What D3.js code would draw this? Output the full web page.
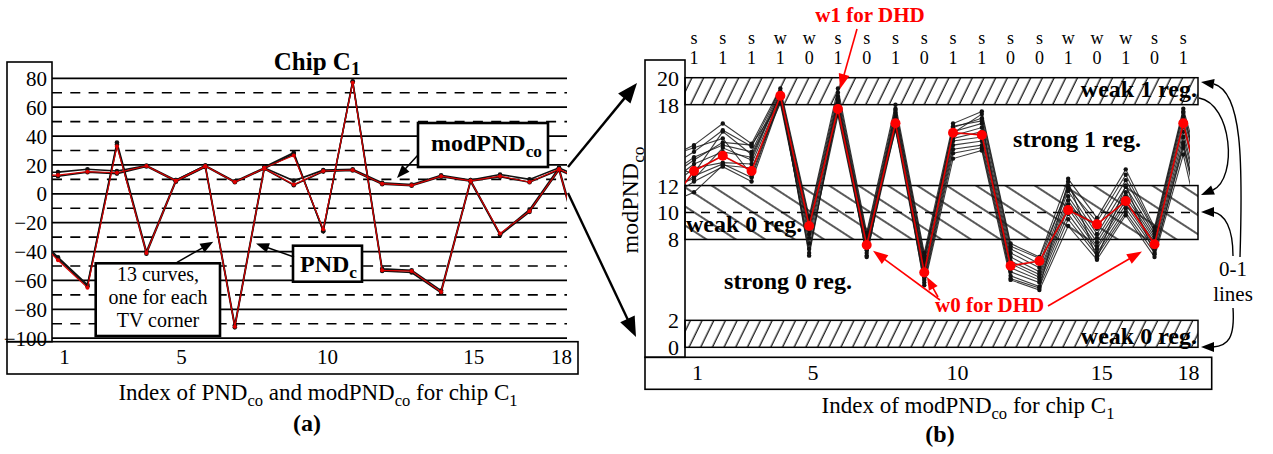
<!DOCTYPE html>
<html><head><meta charset="utf-8">
<script src="https://cdn.jsdelivr.net/npm/d3@7"></script>
<style>
body{margin:0;background:#fff}
svg{display:block}
text{font-family:"Liberation Serif","Times New Roman",serif;fill:#000}
</style>
</head><body>
<svg id="c" width="1273" height="454"></svg>
<script>
// ---------- DATA (index 0 and 19 are the clipped edge segments) ----------
const indexA = d3.range(0, 20);
const xTickVals = [1, 5, 10, 15, 18];
const yTicksA = [80, 60, 40, 20, 0, -20, -40, -60, -80, -100];
const yDashA = [70, 50, 30, 10, -10, -30, -50, -70, -90];
const yTicksB = [20, 18, 12, 10, 8, 2, 0];

// panel (a): PND_c (red) and two visible TV-corner curves (black)
const pndRed    = [-25, -46, -65, 33, -41, 9, 19, -92, 18, 26.5, -24.5, 77, -53, -53.5, -68, 9, -27.5, -12, 17, -57];
const pndBlack1 = [-24, -44, -63, 35.5, -40, 9.5, 19.5, -91, 18.5, 28.5, -26, 78, -52, -53, -67, 9.5, -28, -11, 18, -55];
const pndBlack2 = [-26, -45, -64, 34, -41.5, 8.5, 18.5, -92.5, 17.5, 27.5, -25.5, 77.5, -53.5, -54.5, -68.5, 8.5, -28.5, -12.5, 16.5, -58];
// panel (a): modPND_co (red) and two visible corner curves (black)
const modRedA    = [13, 13, 15.3, 14.6, 19.3, 9, 19.3, 8.2, 17.6, 6.4, 15.8, 16.5, 7, 5.9, 12.2, 9, 12.2, 8.2, 17, 8];
const modBlackA1 = [14.5, 15, 17, 15.8, 19.5, 9.5, 19.5, 8.6, 18, 9, 16.4, 17, 7.6, 6.5, 12.8, 9.5, 13.4, 10, 18, 9];
const modBlackA2 = [11.8, 12.2, 15, 14, 19, 8.6, 19, 8, 17.3, 6, 15.4, 16.2, 6.6, 5.6, 11.8, 8.7, 11.8, 8, 16.5, 7];

// panel (b): modPND_co of chip C1, red = nominal curve used for DHD
const modRedB = [10.2, 13.08, 14.21, 13.08, 18.66, 9.0, 17.68, 7.59, 16.62, 5.55, 15.92, 15.75, 6.05, 6.40, 10.19, 9.12, 10.85, 7.64, 16.62, 8];
// panel (b): the 12 other TV-corner curves
const corner01 = [14.0, 15.0, 16.6, 15.1, 19.2, 9.7, 19.2, 8.5, 18.0, 7.0, 16.6, 17.5, 7.7, 6.7, 12.5, 9.6, 13.2, 8.9, 17.7, 10];
const corner02 = [13.2, 14.5, 16.1, 14.9, 19.0, 9.5, 18.9, 8.3, 17.7, 6.6, 16.3, 17.0, 7.3, 6.2, 12.0, 8.8, 12.4, 8.6, 17.4, 9];
const corner03 = [12.6, 14.1, 15.0, 14.5, 18.9, 9.3, 18.6, 8.1, 17.4, 6.3, 16.0, 16.6, 7.0, 5.9, 11.6, 8.4, 11.9, 8.4, 17.1, 9];
const corner04 = [12.0, 13.6, 14.5, 14.1, 18.8, 9.0, 18.3, 8.0, 17.2, 6.0, 15.7, 16.3, 6.7, 5.6, 11.2, 8.1, 11.5, 8.2, 16.8, 8];
const corner05 = [11.6, 13.3, 13.7, 13.6, 18.6, 8.7, 18.1, 7.8, 17.0, 5.8, 15.5, 16.0, 6.4, 5.4, 10.9, 7.8, 11.2, 8.0, 16.4, 8];
const corner06 = [11.2, 12.7, 13.6, 12.6, 18.4, 8.4, 17.9, 7.6, 16.8, 5.4, 15.3, 15.6, 6.2, 5.2, 10.6, 7.5, 10.9, 7.8, 16.0, 7];
const corner07 = [10.9, 12.3, 13.4, 12.3, 18.3, 8.1, 17.6, 7.4, 16.6, 5.2, 15.0, 15.3, 5.9, 5.0, 10.3, 7.3, 10.6, 7.5, 15.6, 7];
const corner08 = [10.6, 11.5, 13.5, 13.3, 18.1, 7.7, 17.4, 7.2, 16.4, 5.0, 14.7, 15.0, 5.6, 4.8, 9.9, 7.0, 10.3, 7.3, 15.2, 6];
const corner09 = [14.1, 14.8, 15.5, 12.8, 18.5, 7.3, 17.2, 7.0, 16.2, 4.8, 14.4, 14.8, 5.3, 4.5, 9.5, 6.8, 10.0, 7.0, 14.8, 6];
const corner10 = [13.5, 12.9, 16.0, 14.3, 18.7, 7.0, 17.8, 6.8, 16.9, 4.6, 14.0, 14.6, 5.0, 4.25, 9.0, 6.5, 9.8, 6.7, 14.3, 5];
const corner11 = [12.4, 13.9, 15.2, 15.0, 18.2, 8.9, 18.4, 6.7, 17.6, 6.8, 15.9, 17.3, 7.5, 6.6, 11.8, 9.3, 12.8, 8.7, 17.5, 9];
const corner12 = [11.8, 12.5, 14.8, 13.9, 18.8, 6.8, 18.0, 7.9, 16.1, 6.5, 16.4, 16.8, 5.1, 4.4, 12.3, 6.6, 12.0, 6.9, 15.0, 7];
const cornersB = [corner01, corner02, corner03, corner04, corner05, corner06, corner07, corner08, corner09, corner10, corner11, corner12];

// column labels over panel (b)
const strength = ["s","s","s","w","w","s","s","s","s","s","s","s","s","w","w","w","s","s"];
const bitVal   = ["1","1","1","1","0","1","0","1","0","1","1","0","0","1","0","1","0","1"];

// ---------- helpers ----------
const svg = d3.select("#c");
svg.append("rect").attr("width",1273).attr("height",454).attr("fill","#fff");
const defs = svg.append("defs");

function rich(t, parts, shift = 6, subSize = "0.72em") {
  let cur = 0;
  parts.forEach(p => {
    const ts = t.append("tspan").text(p.t);
    const target = p.sub ? shift : 0;
    if (target !== cur) { ts.attr("dy", target - cur); cur = target; }
    if (p.sub) ts.attr("font-size", subSize);
  });
  return t;
}
function arrowHead(g, x2, y2, ux, uy, len, w, color) {
  const bx = x2 - ux*len, by = y2 - uy*len;
  g.append("path")
    .attr("d", `M${x2},${y2}L${bx - uy*w/2},${by + ux*w/2}L${bx + uy*w/2},${by - ux*w/2}Z`)
    .attr("fill", color);
}
function arrow(g, x1, y1, x2, y2, o = {}) {
  const color = o.color || "#000", len = o.len || 12, w = o.w || 9, sw = o.sw || 1.5;
  const dx = x2-x1, dy = y2-y1, L = Math.hypot(dx,dy), ux = dx/L, uy = dy/L;
  g.append("line").attr("x1",x1).attr("y1",y1).attr("x2",x2-ux*len*0.8).attr("y2",y2-uy*len*0.8)
    .attr("stroke",color).attr("stroke-width",sw);
  arrowHead(g, x2, y2, ux, uy, len, w, color);
}
function curveArrow(g, d, cx, cy, x2, y2, o = {}) {
  const color = o.color || "#000";
  g.append("path").attr("d", d).attr("fill","none").attr("stroke",color).attr("stroke-width",1.4);
  const dx = x2-cx, dy = y2-cy, L = Math.hypot(dx,dy);
  arrowHead(g, x2, y2, dx/L, dy/L, o.len || 13, o.w || 10, color);
}

// ================= PANEL (a) =================
const gA = svg.append("g");
const xA = d3.scaleLinear().domain([1, 18]).range([58, 559]);
const xAlab = d3.scaleLinear().domain([1, 18]).range([64, 561]);
const yA = d3.scaleLinear().domain([-100, 80]).range([338.2, 78.3]);

defs.append("clipPath").attr("id","clipA").append("rect")
  .attr("x", 52).attr("y", 40).attr("width", 515).attr("height", 300);

// grid
gA.selectAll(".gs").data(yTicksA).join("line")
  .attr("x1", 52).attr("x2", 567).attr("y1", d => yA(d)).attr("y2", d => yA(d))
  .attr("stroke", "#000").attr("stroke-width", 1.8);
gA.selectAll(".gd").data(yDashA).join("line")
  .attr("x1", 52).attr("x2", 567).attr("y1", d => yA(d)).attr("y2", d => yA(d))
  .attr("stroke", "#000").attr("stroke-width", 1.6).attr("stroke-dasharray", "10,8.3");

// boxes
gA.append("rect").attr("x", 7).attr("y", 62).attr("width", 45).attr("height", 279.7)
  .attr("fill", "none").attr("stroke", "#000").attr("stroke-width", 1.6);
gA.append("rect").attr("x", 7).attr("y", 341.7).attr("width", 571).attr("height", 32.3)
  .attr("fill", "none").attr("stroke", "#000").attr("stroke-width", 1.6);

// axes (text only)
const axYA = gA.append("g").attr("transform", "translate(47,0)")
  .call(d3.axisLeft(yA).tickValues(yTicksA).tickSize(0).tickPadding(0));
axYA.select(".domain").remove();
axYA.selectAll("text").attr("font-size", 21).attr("font-family", "Liberation Serif").attr("fill", "#000").attr("dy", "0.34em");
const axXA = gA.append("g").attr("transform", "translate(0,341.7)")
  .call(d3.axisBottom(xAlab).tickValues(xTickVals).tickSize(0).tickPadding(0).tickFormat(d3.format("d")));
axXA.select(".domain").remove();
axXA.selectAll("text").attr("font-size", 21).attr("font-family", "Liberation Serif").attr("fill", "#000").attr("y", 22).attr("dy", 0);

// curves
const lineA = d3.line().x((d, i) => xA(i)).y(d => yA(d));
const curvesA = gA.append("g").attr("clip-path", "url(#clipA)");
[pndBlack1, pndBlack2, modBlackA1, modBlackA2].forEach(s => {
  curvesA.append("path").attr("d", lineA(s)).attr("fill", "none").attr("stroke", "#111").attr("stroke-width", 1.6);
  curvesA.selectAll(null).data(s.map((v, i) => [i, v]).filter(p => p[0] >= 1 && p[0] <= 18)).join("circle")
    .attr("cx", p => xA(p[0])).attr("cy", p => yA(p[1])).attr("r", 2.3).attr("fill", "#111");
});
[pndRed, modRedA].forEach(s => {
  curvesA.append("path").attr("d", lineA(s)).attr("fill", "none").attr("stroke", "#d40000").attr("stroke-width", 1.2);
  curvesA.selectAll(null).data(s.map((v, i) => [i, v]).filter(p => p[0] >= 1 && p[0] <= 18)).join("circle")
    .attr("cx", p => xA(p[0])).attr("cy", p => yA(p[1])).attr("r", 2).attr("fill", "#e00000");
});

// title & labels
rich(gA.append("text").attr("x", 317).attr("y", 70).attr("text-anchor", "middle")
  .attr("font-size", 25).attr("font-weight", "bold"), [{t:"Chip C"},{t:"1",sub:true}], 5, "0.75em");
rich(gA.append("text").attr("x", 318).attr("y", 400).attr("text-anchor", "middle").attr("font-size", 23),
  [{t:"Index of PND"},{t:"co",sub:true},{t:" and modPND"},{t:"co",sub:true},{t:" for chip C"},{t:"1",sub:true}], 6, "0.72em");
gA.append("text").attr("x", 307).attr("y", 431).attr("text-anchor", "middle")
  .attr("font-size", 24).attr("font-weight", "bold").text("(a)");

// annotation boxes
gA.append("rect").attr("x", 418).attr("y", 123).attr("width", 130).attr("height", 44)
  .attr("fill", "#fff").attr("stroke", "#000").attr("stroke-width", 2.6);
rich(gA.append("text").attr("x", 431).attr("y", 151).attr("font-size", 24).attr("font-weight", "bold"),
  [{t:"modPND"},{t:"co",sub:true}], 6, "0.72em");
arrow(gA, 418, 155, 397, 178, {len: 13, w: 10});

gA.append("rect").attr("x", 293).attr("y", 245.7).attr("width", 69).attr("height", 36)
  .attr("fill", "#fff").attr("stroke", "#000").attr("stroke-width", 2.6);
rich(gA.append("text").attr("x", 300).attr("y", 272).attr("font-size", 24).attr("font-weight", "bold"),
  [{t:"PND"},{t:"c",sub:true}], 6, "0.72em");
arrow(gA, 294, 257, 256, 243.5, {len: 13, w: 10});

gA.append("rect").attr("x", 95.7).attr("y", 263.3).attr("width", 124.3).attr("height", 72.7)
  .attr("fill", "#fff").attr("stroke", "#000").attr("stroke-width", 2.6);
const t13 = gA.append("text").attr("text-anchor", "middle").attr("font-size", 20);
[["13 curves,", 281], ["one for each", 304], ["TV corner", 327]].forEach(([s, y]) =>
  t13.append("tspan").attr("x", 158).attr("y", y).text(s));
arrow(gA, 177, 262.3, 213.3, 241.7, {len: 13, w: 10});

// big arrows between panels
arrow(svg, 568, 167, 637, 83, {len: 20, w: 16, sw: 2.4});
arrow(svg, 568, 193, 636, 337, {len: 20, w: 16, sw: 2.4});

// ================= PANEL (b) =================
const gB = svg.append("g");
const xB = d3.scaleLinear().domain([1, 18]).range([694, 1183.3]);
const xBlab = d3.scaleLinear().domain([1, 18]).range([697, 1188]);
const yB = d3.scaleLinear().domain([0, 20]).range([347.3, 77.7]);
const L = 685, R = 1198;

// hatch patterns
const pf = defs.append("pattern").attr("id", "hatchF").attr("patternUnits", "userSpaceOnUse")
  .attr("width", 20).attr("height", 10.5).attr("patternTransform", "rotate(-64)");
pf.append("line").attr("x1", 0).attr("x2", 20).attr("y1", 5).attr("y2", 5).attr("stroke", "#000").attr("stroke-width", 1.2);
const pb = defs.append("pattern").attr("id", "hatchB").attr("patternUnits", "userSpaceOnUse")
  .attr("width", 30).attr("height", 16).attr("patternTransform", "rotate(33)");
pb.append("line").attr("x1", 0).attr("x2", 30).attr("y1", 8).attr("y2", 8).attr("stroke", "#000").attr("stroke-width", 1.3);

// bands
const bands = [[18, 20, "url(#hatchF)"], [8, 12, "url(#hatchB)"], [0, 2, "url(#hatchF)"]];
gB.selectAll(".band").data(bands).join("rect")
  .attr("x", L).attr("width", R - L).attr("y", d => yB(d[1])).attr("height", d => yB(d[0]) - yB(d[1]))
  .attr("fill", d => d[2]).attr("stroke", "#000").attr("stroke-width", 1.5);
gB.append("line").attr("x1", L).attr("x2", R).attr("y1", yB(10)).attr("y2", yB(10))
  .attr("stroke", "#000").attr("stroke-width", 1.4).attr("stroke-dasharray", "9,7");

// boxes
gB.append("rect").attr("x", 645).attr("y", 60).attr("width", 40).attr("height", 297.3)
  .attr("fill", "none").attr("stroke", "#000").attr("stroke-width", 1.6);
gB.append("rect").attr("x", 645).attr("y", 357.3).attr("width", 566.7).attr("height", 32)
  .attr("fill", "none").attr("stroke", "#000").attr("stroke-width", 1.6);

// axes text
const axYB = gB.append("g").attr("transform", "translate(679,0)")
  .call(d3.axisLeft(yB).tickValues(yTicksB).tickSize(0).tickPadding(0));
axYB.select(".domain").remove();
axYB.selectAll("text").attr("font-size", 22).attr("font-family", "Liberation Serif").attr("fill", "#000").attr("dy", "0.34em");
const axXB = gB.append("g").attr("transform", "translate(0,357.3)")
  .call(d3.axisBottom(xBlab).tickValues(xTickVals).tickSize(0).tickPadding(0).tickFormat(d3.format("d")));
axXB.select(".domain").remove();
axXB.selectAll("text").attr("font-size", 22).attr("font-family", "Liberation Serif").attr("fill", "#000").attr("y", 23).attr("dy", 0);

// region labels (under curves)
const regLab = (x, y, s, anchor) => gB.append("text").attr("x", x).attr("y", y).attr("text-anchor", anchor)
  .attr("font-size", 24).attr("font-weight", "bold").text(s);
regLab(1197, 97, "weak 1 reg.", "end");
regLab(1077, 147, "strong 1 reg.", "middle");
regLab(686, 232, "weak 0 reg.", "start");
regLab(788, 288.5, "strong 0 reg.", "middle");
regLab(1197, 343.5, "weak 0 reg.", "end");

// curves
defs.append("clipPath").attr("id", "clipB").append("rect")
  .attr("x", L).attr("y", 60).attr("width", 1190 - L).attr("height", 300);
const lineB = d3.line().x((d, i) => xB(i)).y(d => yB(d));
const curvesB = gB.append("g").attr("clip-path", "url(#clipB)");
cornersB.forEach(s => {
  curvesB.append("path").attr("d", lineB(s)).attr("fill", "none").attr("stroke", "#1a1a1a")
    .attr("stroke-width", 1.1).attr("stroke-opacity", 0.85);
});
cornersB.forEach(s => {
  curvesB.selectAll(null).data(s.map((v, i) => [i, v]).filter(p => p[0] >= 1 && p[0] <= 18)).join("circle")
    .attr("cx", p => xB(p[0])).attr("cy", p => yB(p[1])).attr("r", 2.2).attr("fill", "#111");
});
curvesB.append("path").attr("d", lineB(modRedB)).attr("fill", "none").attr("stroke", "#e00000").attr("stroke-width", 1.6);
curvesB.selectAll(null).data(modRedB.map((v, i) => [i, v]).filter(p => p[0] >= 1 && p[0] <= 18)).join("circle")
  .attr("cx", p => xB(p[0])).attr("cy", p => yB(p[1])).attr("r", 5).attr("fill", "#ff0000");

// column labels
gB.selectAll(".cs").data(strength).join("text")
  .attr("x", (d, i) => xB(i + 1)).attr("y", 44).attr("text-anchor", "middle").attr("font-size", 18).text(d => d);
gB.selectAll(".cb").data(bitVal).join("text")
  .attr("x", (d, i) => xB(i + 1)).attr("y", 64).attr("text-anchor", "middle").attr("font-size", 18).text(d => d);

// axis labels
rich(gB.append("text").attr("transform", "translate(638,200) rotate(-90)").attr("text-anchor", "middle").attr("font-size", 24),
  [{t:"modPND"},{t:"co",sub:true}], 6, "0.72em");
rich(gB.append("text").attr("x", 968).attr("y", 413).attr("text-anchor", "middle").attr("font-size", 23),
  [{t:"Index of modPND"},{t:"co",sub:true},{t:" for chip C"},{t:"1",sub:true}], 6, "0.72em");
gB.append("text").attr("x", 940).attr("y", 442).attr("text-anchor", "middle")
  .attr("font-size", 24).attr("font-weight", "bold").text("(b)");

// red DHD annotations
gB.append("text").attr("x", 870).attr("y", 22).attr("text-anchor", "middle").attr("font-size", 21)
  .attr("font-weight", "bold").style("fill", "#ff0000").text("w1 for DHD");
arrow(gB, 857, 29, 840, 89, {color: "#ff0000", len: 15, w: 11, sw: 1.6});
gB.append("text").attr("x", 935).attr("y", 312).attr("font-size", 21)
  .attr("font-weight", "bold").style("fill", "#ff0000").text("w0 for DHD");
arrow(gB, 940, 300, 873, 250.7, {color: "#ff0000", len: 15, w: 11, sw: 1.6});
arrow(gB, 938, 297, 927, 277, {color: "#ff0000", len: 13, w: 10, sw: 1.6});
arrow(gB, 1048, 306, 1142, 251.5, {color: "#ff0000", len: 15, w: 11, sw: 1.6});

// 0-1 lines
const t01 = gB.append("text").attr("text-anchor", "middle").attr("font-size", 21);
t01.append("tspan").attr("x", 1233).attr("y", 276).text("0-1");
t01.append("tspan").attr("x", 1233).attr("y", 301).text("lines");
curveArrow(gB, "M1199,98 C1232,104 1238,178 1213,190", 1213, 190, 1201, 195);
curveArrow(gB, "M1240,257 C1243,160 1242,92 1214,84", 1214, 84, 1201, 82);
curveArrow(gB, "M1233,256 C1233,228 1225,214 1213,212", 1213, 212, 1201, 212);
curveArrow(gB, "M1233,308 C1235,338 1228,346 1213,347", 1213, 347, 1201, 347);
</script>
</body></html>
